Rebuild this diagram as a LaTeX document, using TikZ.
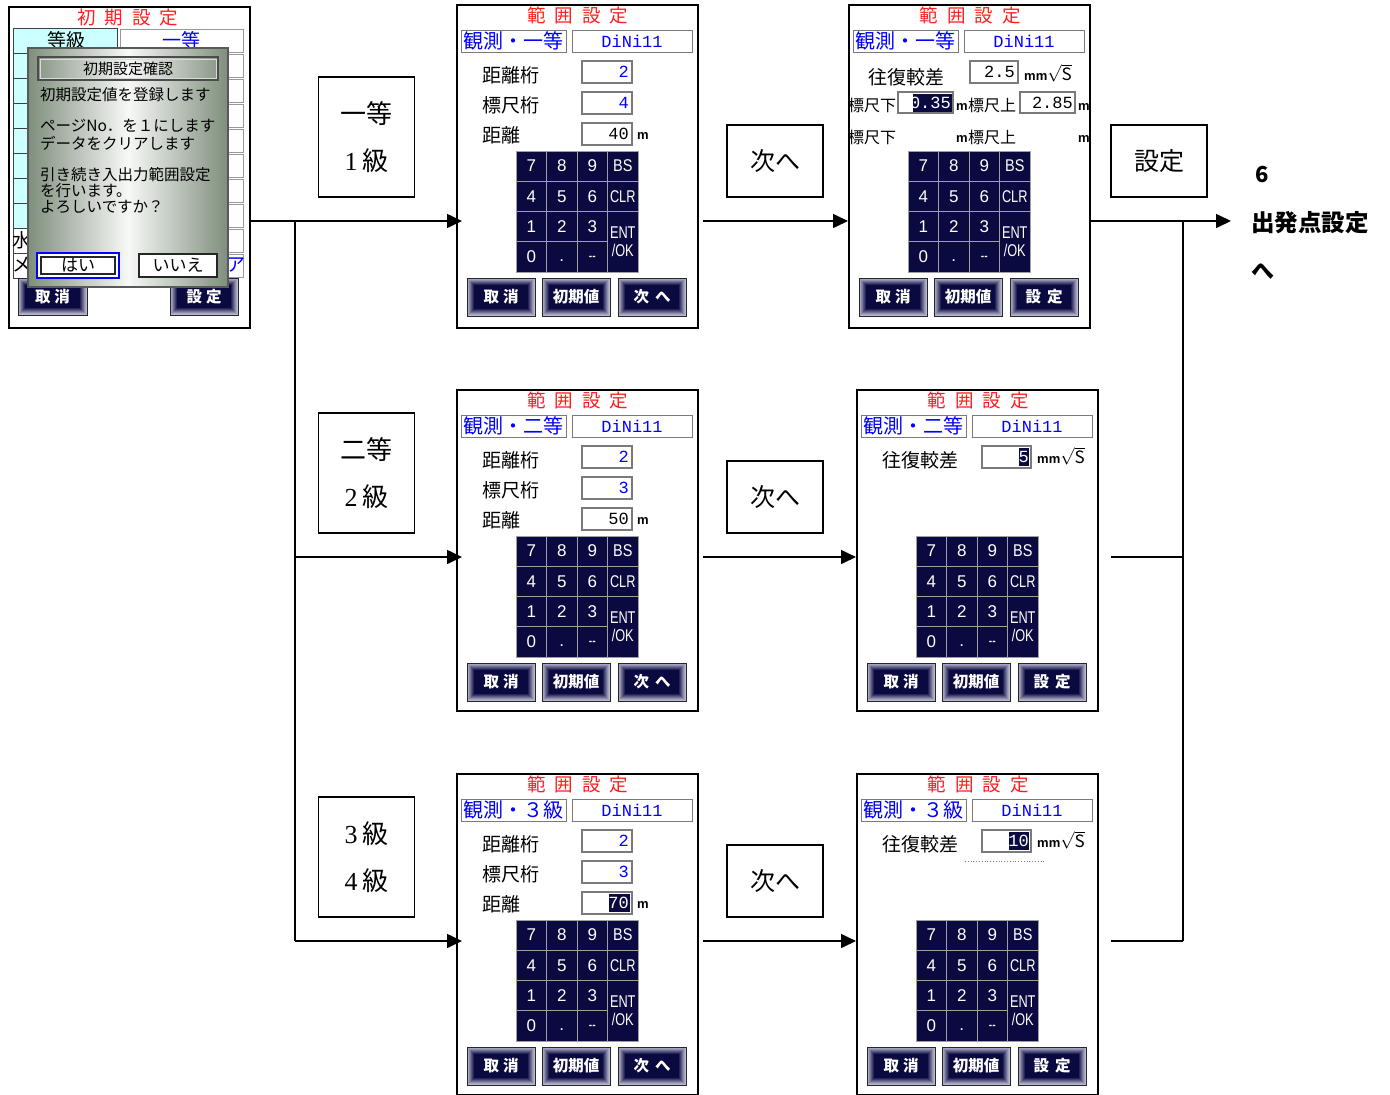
\documentclass[tikz,border=0pt]{standalone}
\usepackage{fontspec}
\usepackage{graphicx}
\setmainfont{Noto Sans CJK JP}
\newfontfamily\monof{Liberation Mono}
\newfontfamily\arialf{Liberation Sans}
\newfontfamily\seriff{Liberation Serif}
\usetikzlibrary{arrows.meta}
\definecolor{kpnavy}{HTML}{0A0A40}
\definecolor{btnedge}{HTML}{B8B8D0}
\definecolor{scrred}{HTML}{FF1E1E}
\definecolor{scrblue}{HTML}{0000FF}
\definecolor{cellcyan}{HTML}{CCFFFF}
\definecolor{dlgedge}{HTML}{7E8E7C}
\definecolor{boxgray}{HTML}{7A7A7A}
\tikzset{
 scr/.style={draw=black, line width=2pt, fill=white, inner sep=0, minimum width=241pt, anchor=north west},
 conn/.style={line width=1.6pt},
 arr/.style={conn, -{Triangle[length=15pt,width=14pt]}},
 flowbox/.style={draw=black, line width=1.3pt, fill=white, minimum width=96pt, inner sep=0, align=center},
 titletxt/.style={text=scrred, font=\fontsize{18.5}{18}\selectfont, inner sep=0},
 hdrbox/.style={draw=boxgray, line width=1pt, fill=white},
 hdrtxt/.style={text=scrblue, font=\fontsize{20}{20}\selectfont, inner sep=0},
 monotxt/.style={text=scrblue, font=\monof\fontsize{17}{17}\selectfont, inner sep=0},
 lbl/.style={anchor=west, inner sep=0, font=\fontsize{19}{19}\selectfont},
 smlbl/.style={anchor=west, inner sep=0, font=\fontsize{16}{16}\selectfont},
 dlgtxt/.style={anchor=west, inner sep=0, font=\fontsize{15.5}{15.5}\selectfont},
 valbox/.style={draw=boxgray, line width=1.2pt, fill=white},
 valtxt/.style={anchor=east, inner sep=0, font=\monof\fontsize{17}{17}\selectfont},
 unittxt/.style={anchor=west, inner sep=0, font=\arialf\bfseries\fontsize{13}{13}\selectfont},
 hilite/.style={fill=kpnavy},
 kpline/.style={draw=gray!75, line width=0.8pt},
 kptxt/.style={text=white, inner sep=0, align=center, font=\arialf\fontsize{17}{18}\selectfont},
 btnborder/.style={draw=black!85, line width=1pt},
 btntxt/.style={text=white, inner sep=0, font=\bfseries\fontsize{15.5}{16}\selectfont},
}
\newcommand\mybtn[6]{%
 \fill[btnedge] (#2,#3) rectangle (#4,#5);
 \foreach \kk/\bp in {1/12,2/25,3/40,4/55,5/70,6/85,7/100}{%
   \fill[kpnavy!\bp!btnedge] ({#2+\kk},{#3+\kk}) rectangle ({#4-\kk},{#5-\kk});}
 \draw[btnborder] (#2,#3) rectangle (#4,#5);
 \node[btntxt] (#1) at ({(#2+#4)/2},{(#3+#5)/2}) {#6};}
\newcommand\mybtns[2]{%
 \mybtn{#1b1}{11}{274}{79}{312}{取\hspace{4pt}消}
 \mybtn{#1b2}{86}{274}{154}{312}{初期値}
 \mybtn{#1b3}{162}{274}{230}{312}{#2}}
\newcommand\mytop[2]{%
 \node[titletxt] (#1t) at (122,11) {範\hspace{9pt}囲\hspace{9pt}設\hspace{9pt}定};
 \draw[hdrbox] (5,26) rectangle (110,48);
 \node[hdrtxt] (#1h) at (57.5,37) {#2};
 \draw[hdrbox] (116,26) rectangle (236,48);
 \node[monotxt] (#1m) at (176,37) {DiNi11};}
\newcommand\mykeypad[1]{%
 \fill[kpnavy] (60,147) rectangle (182,268);
 \draw[kpline] (90.5,147) -- (90.5,268) (121,147) -- (121,268) (151.5,147) -- (151.5,268)
   (60,177.25) -- (182,177.25) (60,207.5) -- (182,207.5) (60,237.75) -- (151.5,237.75)
   (60,147) rectangle (182,268);
 \node[kptxt] (#1k7) at (75.25,162.1) {7};
 \node[kptxt] (#1k8) at (105.75,162.1) {8};
 \node[kptxt] (#1k9) at (136.25,162.1) {9};
 \node[kptxt] (#1kbs) at (166.75,162.1) {\scalebox{0.85}[1]{BS}};
 \node[kptxt] (#1k4) at (75.25,192.4) {4};
 \node[kptxt] (#1k5) at (105.75,192.4) {5};
 \node[kptxt] (#1k6) at (136.25,192.4) {6};
 \node[kptxt] (#1kclr) at (166.75,192.4) {\scalebox{0.75}[1]{CLR}};
 \node[kptxt] (#1k1) at (75.25,222.6) {1};
 \node[kptxt] (#1k2) at (105.75,222.6) {2};
 \node[kptxt] (#1k3) at (136.25,222.6) {3};
 \node[kptxt] (#1kent) at (166.75,237.75) {\scalebox{0.75}[1]{ENT}\\\scalebox{0.75}[1]{/OK}};
 \node[kptxt] (#1k0) at (75.25,252.9) {0};
 \node[kptxt] (#1kdot) at (105.75,257) {.};
 \node[kptxt] (#1kmin) at (136.25,255) {\scalebox{0.6}[1]{--}};}
\newcommand\myfields[5]{%
 \node[lbl] (#1l1) at (26,71) {距離桁};
 \node[lbl] (#1l2) at (26,101) {標尺桁};
 \node[lbl] (#1l3) at (26,131) {距離};
 \draw[valbox] (126,57) rectangle (176,79);
 \draw[valbox] (126,88) rectangle (176,110);
 \draw[valbox] (126,119) rectangle (176,141);
 #5
 \node[valtxt,text=scrblue] (#1v1) at (173,68) {#2};
 \node[valtxt,text=scrblue] (#1v2) at (173,99) {#3};
 \node[valtxt] (#1v3) at (173,130) {#4};
 \node[unittxt] (#1u) at (181,132) {m};}
\newcommand\mymms{{\arialf\bfseries\fontsize{13}{13}\selectfont mm}{\fontsize{17}{17}\selectfont$\sqrt{\mathrm{S}}$}}
\begin{document}
\begin{tikzpicture}[x=1pt,y=-1pt]
\useasboundingbox (0,0) rectangle (1390,1095);

% ---------- screen A : initial setting ----------
\node[scr, minimum height=321pt] (sA) at (8,6) {};
\node[titletxt] (sAt) at (128,18) {初\hspace{9pt}期\hspace{9pt}設\hspace{9pt}定};
\foreach \i in {0,...,9}{
  \pgfmathsetmacro\yt{28+25*\i}
  \pgfmathsetmacro\cf{\i<8 ? 1 : 0}
  \ifdim\cf pt>0.5pt
    \filldraw[fill=cellcyan, draw=black!75, line width=0.8pt] (13,\yt) rectangle (117,\yt+25);
  \else
    \filldraw[fill=white, draw=black!75, line width=0.8pt] (13,\yt) rectangle (117,\yt+25);
  \fi
  \filldraw[fill=white, draw=gray!80, line width=0.8pt] (120,\yt+1) rectangle (243,\yt+24);
}
\node[lbl, anchor=center] (sAg) at (66,40) {等級};
\node[lbl, anchor=center, text=scrblue] (sAg1) at (181,40) {一等};
\node[lbl, anchor=center] (sAw) at (22,240) {水};
\node[lbl, anchor=center] (sAme) at (22,265) {メ};
\node[lbl, anchor=center, text=scrblue] (sAa) at (236,265) {ア};
\mybtn{sAb1}{18}{278}{87}{315}{取\hspace{4pt}消}
\mybtn{sAb2}{170}{278}{238}{315}{設\hspace{4pt}定}
% dialog
\shade[left color=dlgedge, right color=dlgedge, middle color=white!94!dlgedge] (28,48) rectangle (228,287);
\draw[black!65, line width=1.2pt] (28,48) rectangle (228,287);
\draw[black!70, line width=1.2pt] (38,57) rectangle (218,80);
\draw[white!85!black, line width=0.8pt] (40,59) rectangle (216,78);
\node[inner sep=0, font=\fontsize{15}{15}\selectfont] (dlgT) at (128,69) {初期設定確認};
\node[dlgtxt] (d1) at (40,95) {初期設定値を登録します};
\node[dlgtxt] (d2) at (40,126) {ページNo．を１にします};
\node[dlgtxt] (d3) at (40,143) {データをクリアします};
\node[dlgtxt] (d4) at (40,175) {引き続き入出力範囲設定};
\node[dlgtxt] (d5) at (40,191) {を行います。};
\node[dlgtxt] (d6) at (40,207) {よろしいですか？};
\filldraw[fill=white, draw=scrblue, line width=2pt] (37,253) rectangle (119,278);
\draw[black!85, line width=1.5pt] (41,257) rectangle (115,274);
\node[inner sep=0, font=\fontsize{17}{17}\selectfont] (yes) at (78,265) {はい};
\filldraw[fill=white, draw=black!85, line width=2pt] (139,254) rectangle (217,277);
\node[inner sep=0, font=\fontsize{17}{17}\selectfont] (no) at (178,265) {いいえ};

% ---------- screens ----------
\node[scr, minimum height=323pt] (s1) at (456,4) {};
\begin{scope}[shift={(456,4)}]
 \mytop{s1}{観測・一等}
 \myfields{s1}{2}{4}{40}{}
 \mykeypad{s1}
 \mybtns{s1}{次\hspace{6pt}へ}
\end{scope}

\node[scr, minimum height=321pt] (s2) at (456,389) {};
\begin{scope}[shift={(456,389)}]
 \mytop{s2}{観測・二等}
 \myfields{s2}{2}{3}{50}{}
 \mykeypad{s2}
 \mybtns{s2}{次\hspace{6pt}へ}
\end{scope}

\node[scr, minimum height=321pt] (s3) at (456,773) {};
\begin{scope}[shift={(456,773)}]
 \mytop{s3}{観測・３級}
 \myfields{s3}{2}{3}{\textcolor{white}{70}}{\fill[hilite] (153,121) rectangle (174,139);}
 \mykeypad{s3}
 \mybtns{s3}{次\hspace{6pt}へ}
\end{scope}

\node[scr, minimum height=323pt] (s4) at (848,4) {};
\begin{scope}[shift={(848,4)}]
 \mytop{s4}{観測・一等}
 \node[lbl] (s4l) at (20,73) {往復較差};
 \draw[valbox] (122,57) rectangle (170,79);
 \node[valtxt] (s4v) at (167,68) {2.5};
 \node[anchor=west, inner sep=0] (s4u) at (176,69) {\mymms};
 \node[smlbl] (s4a) at (0,101) {標尺下};
 \draw[valbox] (50,88) rectangle (105,109);
 \fill[hilite] (65,90) rectangle (104,108);
 \node[valtxt, text=white] (s4va) at (103,99) {0.35};
 \node[unittxt] (s4m1) at (108,103) {m};
 \node[smlbl] (s4b) at (120,101) {標尺上};
 \draw[valbox] (172,88) rectangle (227,109);
 \node[valtxt] (s4vb) at (225,99) {2.85};
 \node[unittxt] (s4m2) at (230,103) {m};
 \node[smlbl] (s4c) at (0,133) {標尺下};
 \node[unittxt] (s4m3) at (108,135) {m};
 \node[smlbl] (s4d) at (120,133) {標尺上};
 \node[unittxt] (s4m4) at (230,135) {m};
 \mykeypad{s4}
 \mybtns{s4}{設\hspace{6pt}定}
\end{scope}

\node[scr, minimum height=321pt] (s5) at (856,389) {};
\begin{scope}[shift={(856,389)}]
 \mytop{s5}{観測・二等}
 \node[lbl] (s5l) at (26,71) {往復較差};
 \draw[valbox] (126,57) rectangle (175,79);
 \fill[hilite] (163,59) rectangle (173,77);
 \node[valtxt, text=white] (s5v) at (173,68) {5};
 \node[anchor=west, inner sep=0] (s5u) at (181,67) {\mymms};
 \mykeypad{s5}
 \mybtns{s5}{設\hspace{6pt}定}
\end{scope}

\node[scr, minimum height=321pt] (s6) at (856,773) {};
\begin{scope}[shift={(856,773)}]
 \mytop{s6}{観測・３級}
 \node[lbl] (s6l) at (26,71) {往復較差};
 \draw[valbox] (126,57) rectangle (175,79);
 \fill[hilite] (153,59) rectangle (173,77);
 \node[valtxt, text=white] (s6v) at (173,68) {10};
 \node[anchor=west, inner sep=0] (s6u) at (181,67) {\mymms};
 \draw[gray, line width=0.8pt, dotted] (109,88) -- (189,88);
 \mykeypad{s6}
 \mybtns{s6}{設\hspace{6pt}定}
\end{scope}

% ---------- flow labels ----------
\node[flowbox, minimum height=120pt, font=\fontsize{26}{47}\selectfont] (g1) at (366.5,137) {一等\\{\seriff 1}\hspace{5pt}級};
\node[flowbox, minimum height=120pt, font=\fontsize{26}{47}\selectfont] (g2) at (366.5,473) {二等\\{\seriff 2}\hspace{5pt}級};
\node[flowbox, minimum height=120pt, font=\fontsize{26}{47}\selectfont] (g3) at (366.5,857) {{\seriff 3}\hspace{5pt}級\\{\seriff 4}\hspace{5pt}級};
\node[flowbox, minimum height=72pt, font=\fontsize{25}{25}\selectfont] (n1) at (775,161) {次へ};
\node[flowbox, minimum height=72pt, font=\fontsize{25}{25}\selectfont] (n2) at (775,497) {次へ};
\node[flowbox, minimum height=72pt, font=\fontsize{25}{25}\selectfont] (n3) at (775,881) {次へ};
\node[flowbox, minimum height=72pt, font=\fontsize{25}{25}\selectfont] (set) at (1159,161) {設定};
\node[inner sep=0, font=\bfseries\fontsize{22}{22}\selectfont] (six) at (1262,175) {6};
\node[anchor=west, inner sep=0, font=\bfseries\fontsize{23.5}{24}\selectfont] (dest) at (1251,223) {出発点設定};
\node[inner sep=0, font=\bfseries\fontsize{23}{23}\selectfont] (he) at (1263,271) {へ};

% ---------- connectors ----------
\coordinate (jA) at (295,221);
\coordinate (jB) at (295,557);
\coordinate (jC) at (295,941);
\draw[conn] (sA.east |- jA) -- (jA);
\draw[arr, shorten >=-6pt] (jA) -- (s1.west |- jA);
\draw[conn] (jA) -- (jC);
\draw[arr, shorten >=-6pt] (jB) -- (s2.west |- jB);
\draw[arr, shorten >=-6pt] (jC) -- (s3.west |- jC);
\coordinate (o1) at (703,221);
\coordinate (o2) at (703,557);
\coordinate (o3) at (703,941);
\draw[arr] (o1) -- (s4.west |- o1);
\draw[arr] (o2) -- (s5.west |- o2);
\draw[arr] (o3) -- (s6.west |- o3);
\coordinate (jR) at (1183,221);
\coordinate (jR2) at (1183,557);
\coordinate (jR3) at (1183,941);
\draw[conn] (s4.east |- jR) -- (jR);
\draw[arr, shorten >=20pt] (jR) -- (dest.west |- jR);
\draw[conn] (jR) -- (jR3);
\coordinate (o5) at (1111,557);
\coordinate (o6) at (1111,941);
\draw[conn] (o5) -- (jR2);
\draw[conn] (o6) -- (jR3);
\end{tikzpicture}
\end{document}
